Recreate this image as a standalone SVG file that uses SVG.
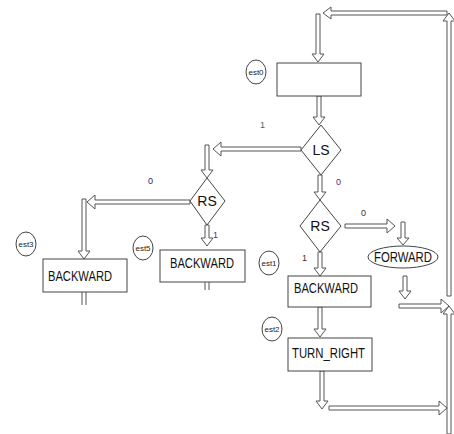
<svg xmlns="http://www.w3.org/2000/svg" width="454" height="434" viewBox="0 0 454 434">
<style>
.ar{fill:#fff;stroke:#555;stroke-width:1}
.bx{fill:#fff;stroke:#444;stroke-width:1}
.t{font-family:"Liberation Sans Narrow","Liberation Sans",Arial,sans-serif;font-size:14px;fill:#111}
.e{fill:#fff;stroke:#444;stroke-width:1}
.et{font-family:"Liberation Sans Narrow","Liberation Sans",Arial,sans-serif;font-size:8px;fill:#222;text-anchor:middle}
.lb{font-family:"Liberation Sans",Arial,sans-serif;font-size:9px}
</style>
<rect width="454" height="434" fill="#fff"/>
<g id="connectors">
<polygon class="ar" points="447,11 331,11 331,7 323,13 331,19 331,15 447,15"/>
<polygon class="ar" points="316,14 320,14 320,54 324,54 318,62 312,54 316,54"/>
<polygon class="ar" points="447,296 451,296 451,21 455,21 449,13 443,21 447,21"/>
<polygon class="ar" points="447,434 451,434 451,314 455,314 449,306 443,314 447,314"/>
<polygon class="ar" points="317,96 321,96 321,117 325,117 319,125 313,117 317,117"/>
<polygon class="ar" points="301,147 221,147 221,142 213,149 221,156 221,151 301,151"/>
<polygon class="ar" points="205,145 209,145 209,170 213,170 207,178 201,170 205,170"/>
<polygon class="ar" points="190,200 95,200 95,195 87,202 95,209 95,204 190,204"/>
<polygon class="ar" points="82,199 86,199 86,251 90,251 84,259 78,251 82,251"/>
<polygon class="ar" points="205,225 209,225 209,238 213,238 207,246 201,238 205,238"/>
<polygon class="ar" points="318,175 322,175 322,192 326,192 320,200 314,192 318,192"/>
<polygon class="ar" points="345,224 387,224 387,219 395,226 387,233 387,228 345,228"/>
<polygon class="ar" points="401,222 405,222 405,238 409,238 403,245 397,238 401,238"/>
<polygon class="ar" points="403,276 407,276 407,291 411,291 405,299 399,291 403,291"/>
<polygon class="ar" points="399,304 441,304 441,299 449,306 441,313 441,308 399,308"/>
<polygon class="ar" points="318,252 322,252 322,268 326,268 320,276 314,268 318,268"/>
<polygon class="ar" points="318,307 322,307 322,329 326,329 320,337 314,329 318,329"/>
<polygon class="ar" points="320,371 324,371 324,401 328,401 322,409 316,401 320,401"/>
<polygon class="ar" points="329,406 439,406 439,401 447,408 439,415 439,410 329,410"/>
<path d="M82,292V305M86,292V305M205,282V290M209,282V290" stroke="#555" stroke-width="1" fill="none"/>
<text class="lb" x="260" y="128" fill="#2e6b6b">1</text>
<text class="lb" x="148" y="184" fill="#1a2a6b">0</text>
<text class="lb" x="336" y="185" fill="#5a2a6b">0</text>
<text class="lb" x="361" y="216" fill="#333">0</text>
<text class="lb" x="213" y="238" fill="#5a2a8b">1</text>
<text class="lb" x="302" y="261" fill="#333">1</text>
</g>
<g id="est0_label"><ellipse class="e" cx="256" cy="72" rx="10" ry="12"/><text class="et" x="256" y="75" textLength="15" lengthAdjust="spacingAndGlyphs">est0</text></g>
<g id="start_box"><rect class="bx" x="277" y="63" width="84" height="33"/></g>
<g id="ls"><polygon class="bx" points="321,125 341,150 321,175 301,150"/><text class="t" x="321" y="155" text-anchor="middle">LS</text></g>
<g id="rs_left"><polygon class="bx" points="207,178 225,201 207,225 190,201"/><text class="t" x="207" y="206" text-anchor="middle">RS</text></g>
<g id="rs_right"><polygon class="bx" points="320,200 341,226 320,252 300,226"/><text class="t" x="320" y="231" text-anchor="middle">RS</text></g>
<g id="est3"><ellipse class="e" cx="26" cy="244" rx="10" ry="12"/><text class="et" x="26" y="247" textLength="15" lengthAdjust="spacingAndGlyphs">est3</text></g>
<g id="backward_est3"><rect class="bx" x="43" y="259" width="84" height="33"/><text class="t" x="48" y="281" textLength="64" lengthAdjust="spacingAndGlyphs">BACKWARD</text></g>
<g id="est5"><ellipse class="e" cx="143" cy="248" rx="10" ry="12"/><text class="et" x="143" y="251" textLength="15" lengthAdjust="spacingAndGlyphs">est5</text></g>
<g id="backward_est5"><rect class="bx" x="160" y="250" width="85" height="32"/><text class="t" x="170" y="268" textLength="64" lengthAdjust="spacingAndGlyphs">BACKWARD</text></g>
<g id="forward"><ellipse class="e" cx="403" cy="257" rx="35" ry="11"/><text class="t" x="403" y="262" text-anchor="middle" textLength="58" lengthAdjust="spacingAndGlyphs">FORWARD</text></g>
<g id="est1"><ellipse class="e" cx="269" cy="263" rx="10" ry="12"/><text class="et" x="269" y="266" textLength="15" lengthAdjust="spacingAndGlyphs">est1</text></g>
<g id="backward_est1"><rect class="bx" x="288" y="276" width="83" height="31"/><text class="t" x="294" y="293" textLength="64" lengthAdjust="spacingAndGlyphs">BACKWARD</text></g>
<g id="est2"><ellipse class="e" cx="272" cy="329" rx="10" ry="12"/><text class="et" x="272" y="332" textLength="15" lengthAdjust="spacingAndGlyphs">est2</text></g>
<g id="turn_right"><rect class="bx" x="288" y="338" width="84" height="33"/><text class="t" x="292" y="358" textLength="73" lengthAdjust="spacingAndGlyphs">TURN_RIGHT</text></g>
</svg>
